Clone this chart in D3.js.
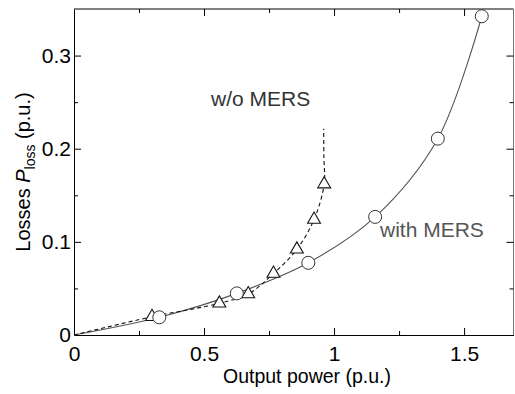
<!DOCTYPE html>
<html>
<head>
<meta charset="utf-8">
<script src="https://cdn.jsdelivr.net/npm/d3@7"></script>
<style>
  body { margin: 0; background: #fff; }
  svg { display: block; font-family: "Liberation Sans", Arial, Helvetica, sans-serif; }
</style>
</head>
<body>
<div id="chart"></div>
<script>
// markers
var withX = [0.328, 0.626, 0.901, 1.158, 1.399, 1.568]
var withY = [0.019, 0.0447, 0.0775, 0.1268, 0.2108, 0.3422]
var woX = [0.30, 0.559, 0.67, 0.767, 0.857, 0.923, 0.962]
var woY = [0.0196, 0.034, 0.044, 0.066, 0.092, 0.124, 0.162]

// the curves (start at origin, dashed one runs on past the last marker)
var withLineX = [0, 0.328, 0.626, 0.901, 1.158, 1.399, 1.568]
var withLineY = [0, 0.019, 0.0447, 0.0775, 0.1268, 0.2108, 0.3422]
var woLineX = [0, 0.30, 0.559, 0.67, 0.767, 0.857, 0.923, 0.962, 0.961, 0.96]
var woLineY = [0, 0.0196, 0.034, 0.044, 0.066, 0.092, 0.124, 0.162, 0.19, 0.2215]

var xTicks = [0, 0.5, 1, 1.5]
var xTickLabels = ["0", "0.5", "1", "1.5"]
var xMinor = [0.25, 0.75, 1.25]
var yTicks = [0, 0.1, 0.2, 0.3]
var yTickLabels = ["0", "0.1", "0.2", "0.3"]
var yMinor = [0.05, 0.15, 0.25]

var W = 515, H = 394
var margin = {top: 9, right: 1.5, bottom: 59, left: 74},
  width = W - margin.left - margin.right,
  height = H - margin.top - margin.bottom

var x = d3.scaleLinear().domain([0, 1.69]).range([0, width])
var y = d3.scaleLinear().domain([0, 0.35]).range([height, 0])

var svg = d3.select("#chart").append("svg")
  .attr("width", W)
  .attr("height", H)

var g = svg.append("g")
  .attr("transform", "translate(" + margin.left + "," + margin.top + ")")

// frame: top and right
g.append("line").attr("x1", 0).attr("x2", width).attr("y1", 0).attr("y2", 0)
  .attr("stroke", "#000").attr("stroke-width", 1)
g.append("line").attr("x1", width).attr("x2", width).attr("y1", 0).attr("y2", height)
  .attr("stroke", "#777").attr("stroke-width", 1)

// top / right tick marks (inward)
g.append("g")
  .call(d3.axisTop(x).tickValues(xTicks.slice(1)).tickSize(-7).tickFormat(""))
  .call(function(s) { s.select(".domain").remove() })
g.append("g")
  .call(d3.axisTop(x).tickValues(xMinor).tickSize(-4).tickFormat(""))
  .call(function(s) { s.select(".domain").remove() })
g.append("g")
  .attr("transform", "translate(" + width + ",0)")
  .call(d3.axisRight(y).tickValues(yTicks.slice(1)).tickSize(-7).tickFormat(""))
  .call(function(s) { s.select(".domain").remove() })
g.append("g")
  .attr("transform", "translate(" + width + ",0)")
  .call(d3.axisRight(y).tickValues(yMinor).tickSize(-4).tickFormat(""))
  .call(function(s) { s.select(".domain").remove() })

// bottom axis
var xAxis = g.append("g")
  .attr("transform", "translate(0," + height + ")")
  .call(d3.axisBottom(x).tickValues(xTicks).tickSizeInner(-7).tickSizeOuter(0)
    .tickPadding(11).tickFormat(function(d, i) { return xTickLabels[i] }))
xAxis.selectAll("text").attr("font-size", 21).attr("fill", "#000")
  .attr("font-family", "'Liberation Sans', Arial, sans-serif")
g.append("g")
  .attr("transform", "translate(0," + height + ")")
  .call(d3.axisBottom(x).tickValues(xMinor).tickSize(-4).tickFormat(""))
  .call(function(s) { s.select(".domain").remove() })

// left axis
var yAxis = g.append("g")
  .call(d3.axisLeft(y).tickValues(yTicks).tickSizeInner(-7).tickSizeOuter(0)
    .tickPadding(3).tickFormat(function(d, i) { return yTickLabels[i] }))
yAxis.selectAll("text").attr("font-size", 21).attr("fill", "#000")
  .attr("font-family", "'Liberation Sans', Arial, sans-serif")
g.append("g")
  .call(d3.axisLeft(y).tickValues(yMinor).tickSize(-4).tickFormat(""))
  .call(function(s) { s.select(".domain").remove() })

// lines
var withLine = withLineX.map(function(d, i) { return [d, withLineY[i]] })
var woLine = woLineX.map(function(d, i) { return [d, woLineY[i]] })
var line = d3.line()
  .x(function(d) { return x(d[0]) })
  .y(function(d) { return y(d[1]) })
  .curve(d3.curveCatmullRom.alpha(0.5))

g.append("path").datum(withLine)
  .attr("d", line).attr("fill", "none")
  .attr("stroke", "#555").attr("stroke-width", 1.1)
g.append("path").datum(woLine)
  .attr("d", line).attr("fill", "none")
  .attr("stroke", "#111").attr("stroke-width", 1.1)
  .attr("stroke-dasharray", "4,3")

// markers
var tri = d3.symbol().type(d3.symbolTriangle).size(72)
g.selectAll(".tri").data(woX).enter().append("path")
  .attr("class", "tri")
  .attr("d", tri)
  .attr("transform", function(d, i) { return "translate(" + x(d) + "," + y(woY[i]) + ")" })
  .attr("fill", "#fff").attr("stroke", "#111").attr("stroke-width", 1.1)

g.selectAll(".circ").data(withX).enter().append("circle")
  .attr("class", "circ")
  .attr("cx", function(d) { return x(d) })
  .attr("cy", function(d, i) { return y(withY[i]) })
  .attr("r", 6.5)
  .attr("fill", "#fff").attr("stroke", "#333").attr("stroke-width", 1)

// annotations
svg.append("text").attr("x", 211).attr("y", 106)
  .attr("font-size", 21).attr("fill", "#333").text("w/o MERS")
svg.append("text").attr("x", 380).attr("y", 237)
  .attr("font-size", 21).attr("fill", "#555").text("with MERS")

// axis titles
svg.append("text")
  .attr("x", 307).attr("y", 383)
  .attr("text-anchor", "middle").attr("font-size", 19.5)
  .text("Output power (p.u.)")

var yt = svg.append("text")
  .attr("transform", "translate(30," + (margin.top + height / 2) + ") rotate(-90)")
  .attr("text-anchor", "middle").attr("font-size", 20)
yt.append("tspan").text("Losses ")
yt.append("tspan").attr("font-style", "italic").text("P")
yt.append("tspan").attr("font-size", 14).attr("dy", 5).text("loss")
yt.append("tspan").attr("dy", -5).text(" (p.u.)")
</script>
</body>
</html>
